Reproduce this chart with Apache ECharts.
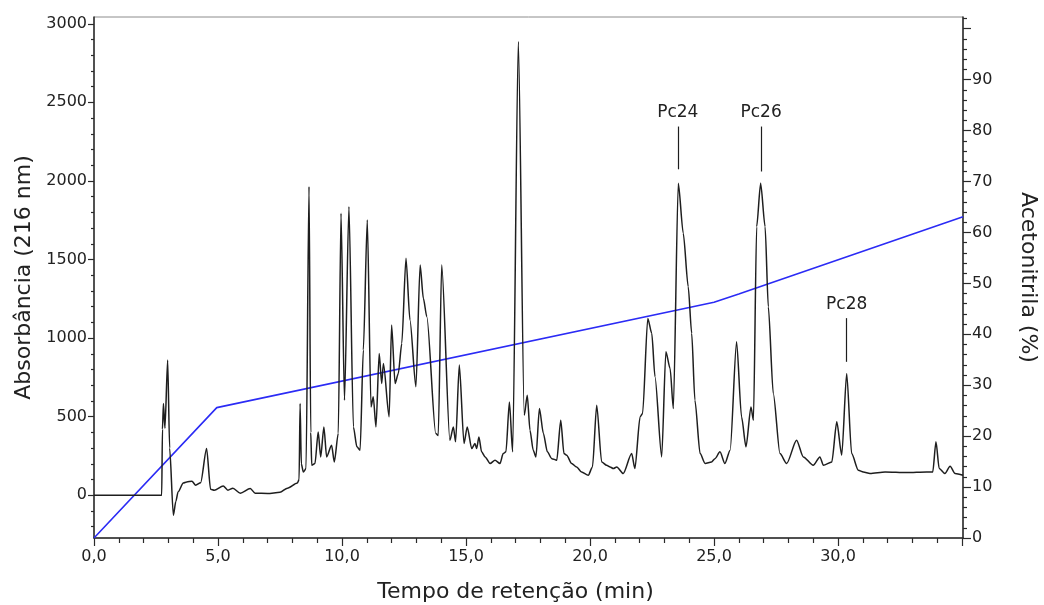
<!DOCTYPE html>
<html>
<head>
<meta charset="utf-8">
<script src="https://cdn.jsdelivr.net/npm/echarts@6/dist/echarts.min.js"></script>
<style>
html,body{margin:0;padding:0;background:#fff;}
#chart{width:1044px;height:605px;}
</style>
</head>
<body>
<div id="chart"></div>
<script>
// Chromatogram (retention time in min, absorbance at 216 nm)
const times = [0,2.73,2.76,2.8,2.86,2.97,3.05,3.2,3.3,3.39,3.6,3.74,3.95,4.1,4.3,4.54,4.7,4.85,5.21,5.4,5.6,5.9,6.3,6.5,7.0,7.5,7.8,8.2,8.27,8.31,8.36,8.44,8.55,8.67,8.74,8.78,8.91,9.04,9.14,9.27,9.38,9.58,9.69,9.85,9.96,10.1,10.28,10.46,10.6,10.73,10.86,11.02,11.17,11.26,11.37,11.5,11.6,11.67,11.9,12.0,12.14,12.27,12.41,12.58,12.74,12.98,13.15,13.28,13.42,13.78,13.88,14.02,14.35,14.49,14.58,14.73,14.92,15.05,15.23,15.36,15.43,15.52,15.63,15.77,15.97,16.17,16.37,16.5,16.61,16.75,16.88,17.11,17.35,17.47,17.58,17.71,17.82,17.96,18.12,18.28,18.46,18.66,18.82,18.95,19.06,19.26,19.46,19.66,19.93,20.1,20.27,20.47,20.67,20.81,20.94,21.08,21.34,21.68,21.81,22.02,22.12,22.33,22.49,22.62,22.89,23.06,23.23,23.36,23.56,23.76,23.96,24.1,24.23,24.44,24.64,24.9,25.04,25.24,25.44,25.65,25.91,26.11,26.29,26.49,26.59,26.72,26.88,27.06,27.19,27.39,27.66,27.93,28.33,28.6,29.0,29.27,29.41,29.75,29.95,30.15,30.35,30.55,30.82,31.02,31.29,31.9,32.77,33.57,33.82,33.95,34.08,34.31,34.52,34.72,35.04];
const absorbance = [0,0,420,584,427,860,300,-127,-40,21,78,85,89,64,80,297,38,32,59,32,45,13,43,13,11,19,45,78,100,584,200,148,170,1964,400,191,202,403,244,435,244,318,212,395,1794,605,1836,435,308,287,924,1752,562,626,435,902,711,838,499,1083,711,775,966,1508,1115,690,1465,1253,1136,393,380,1465,350,435,340,828,329,435,297,329,297,371,276,244,202,223,202,265,276,594,276,2887,509,637,414,287,244,552,393,276,233,223,478,265,255,202,180,148,127,180,573,212,191,180,170,180,138,265,170,499,520,1125,1030,754,244,913,807,552,1985,1667,1327,1030,605,265,202,212,233,276,202,287,977,499,308,562,478,1709,1985,1709,1199,648,265,202,350,244,191,244,191,212,467,255,775,265,159,148,138,148,144,148,148,340,170,138,185,138,127];

// Acetonitrile gradient (%)
const gradTimes = [0,4.95,25,26,35.04];
const gradPct = [0,25.6,46.3,47.9,63.1];

// Peak annotations
const peakNames = ['Pc24','Pc26','Pc28'];
const peakTimes = [23.54,26.9,30.35];
const peakLineLow = [2074,2060,849];
const peakLineHigh = [2346,2346,1127];

// Axis tick values
const xMajor = [0,5,10,15,20,25,30,35];
const xLabels = [0,5,10,15,20,25,30];
const leftLabels = [0,500,1000,1500,2000,2500,3000];
const rightLabels = [0,10,20,30,40,50,60,70,80,90];
const rightMajor = [0,10,20,30,40,50,60,70,80,90,100];

const X_MIN = 0, X_MAX = 35.04;
const L_MIN = -272, L_MAX = 3043;
const R_MIN = 0, R_MAX = 102.3;

function range(a, b, step, skip) {
  const out = [];
  for (let v = a; v <= b + 1e-9; v += step) {
    const r = Math.round(v * 1000) / 1000;
    if (!skip || Math.abs(r % skip) > 1e-6) out.push(r);
  }
  return out;
}
const xMinor = range(0, 35, 1, 5);
const leftMinor = range(-200, 3000, 100, 500);
const rightMinor = range(0, 102, 2, 10);

const chromData = times.map((t, i) => [t, absorbance[i]]);
const gradData = gradTimes.map((t, i) => [t, gradPct[i]]);
const markData = peakNames.map((n, i) => [
  {coord: [peakTimes[i], peakLineLow[i]]},
  {coord: [peakTimes[i], peakLineHigh[i]], name: n}
]);

const FONT = 'DejaVu Sans';
const TXT = '#222';
const AX = '#2a2a2a';
const plain = v => String(v);

const chart = echarts.init(document.getElementById('chart'), null, {renderer: 'canvas'});
chart.setOption({
  animation: false,
  backgroundColor: '#fff',
  grid: {left: 94, right: 81, top: 17, bottom: 67, show: true, borderColor: '#8c8c8c', borderWidth: 1, containLabel: false, outerBoundsMode: 'none'},
  xAxis: [
    {
      type: 'value', min: X_MIN, max: X_MAX, position: 'bottom',
      name: 'Tempo de retenção (min)', nameLocation: 'middle', nameGap: 43,
      nameTextStyle: {fontFamily: FONT, fontSize: 22, color: TXT, padding: [0, 26, 0, 0]},
      axisLine: {show: true, onZero: false, lineStyle: {color: AX, width: 1.5}},
      axisTick: {show: true, customValues: xMajor, length: 8, lineStyle: {color: AX, width: 1.2}},
      axisLabel: {show: true, customValues: xLabels, margin: 11, fontFamily: FONT, fontSize: 16, color: TXT,
        formatter: v => v.toFixed(1).replace('.', ',')},
      splitLine: {show: false}
    },
    {
      type: 'value', min: X_MIN, max: X_MAX, position: 'bottom', offset: 0,
      axisLine: {show: false, onZero: false},
      axisTick: {show: true, customValues: xMinor, length: 5, lineStyle: {color: AX, width: 1.2}},
      axisLabel: {show: false}, splitLine: {show: false}
    }
  ],
  yAxis: [
    {
      type: 'value', min: L_MIN, max: L_MAX, position: 'left',
      name: 'Absorbância (216 nm)', nameLocation: 'middle', nameGap: 44,
      nameTextStyle: {fontFamily: FONT, fontSize: 22, color: TXT},
      axisLine: {show: true, onZero: false, lineStyle: {color: AX, width: 1.5}},
      axisTick: {show: true, customValues: leftLabels, length: 6, lineStyle: {color: AX, width: 1.2}},
      axisLabel: {show: true, customValues: leftLabels, margin: 7, fontFamily: FONT, fontSize: 16, color: TXT, formatter: plain},
      splitLine: {show: false}
    },
    {
      type: 'value', min: R_MIN, max: R_MAX, position: 'right',
      name: 'Acetonitrila (%)', nameLocation: 'middle', nameGap: 54, nameRotate: -90,
      nameTextStyle: {fontFamily: FONT, fontSize: 22, color: TXT},
      axisLine: {show: true, onZero: false, lineStyle: {color: AX, width: 1.5}},
      axisTick: {show: true, customValues: rightMajor, length: 8, lineStyle: {color: AX, width: 1.2}},
      axisLabel: {show: true, customValues: rightLabels, margin: 9, fontFamily: FONT, fontSize: 16, color: TXT, formatter: plain},
      splitLine: {show: false}
    },
    {
      type: 'value', min: L_MIN, max: L_MAX, position: 'left', offset: 0,
      axisLine: {show: false, onZero: false},
      axisTick: {show: true, customValues: leftMinor, length: 3, lineStyle: {color: AX, width: 1.2}},
      axisLabel: {show: false}, splitLine: {show: false}
    },
    {
      type: 'value', min: R_MIN, max: R_MAX, position: 'right', offset: 0,
      axisLine: {show: false, onZero: false},
      axisTick: {show: true, customValues: rightMinor, length: 4, lineStyle: {color: AX, width: 1.2}},
      axisLabel: {show: false}, splitLine: {show: false}
    }
  ],
  series: [
    {
      name: 'Acetonitrila', type: 'line', xAxisIndex: 0, yAxisIndex: 1,
      data: gradData, showSymbol: false, symbol: 'none',
      lineStyle: {color: '#2b2bf5', width: 1.6}, z: 2
    },
    {
      name: 'Absorbância', type: 'line', xAxisIndex: 0, yAxisIndex: 0,
      data: chromData, showSymbol: false, symbol: 'none',
      smooth: 0.25, smoothMonotone: 'x',
      lineStyle: {color: '#1e1e1e', width: 1.5}, z: 3,
      markLine: {
        silent: true, symbol: ['none', 'none'], animation: false,
        lineStyle: {color: '#1e1e1e', width: 1.2, type: 'solid'},
        label: {show: true, position: 'end', distance: 5, formatter: '{b}', fontFamily: FONT, fontSize: 17, color: TXT},
        emphasis: {disabled: true},
        data: markData
      }
    }
  ]
});
</script>
</body>
</html>
